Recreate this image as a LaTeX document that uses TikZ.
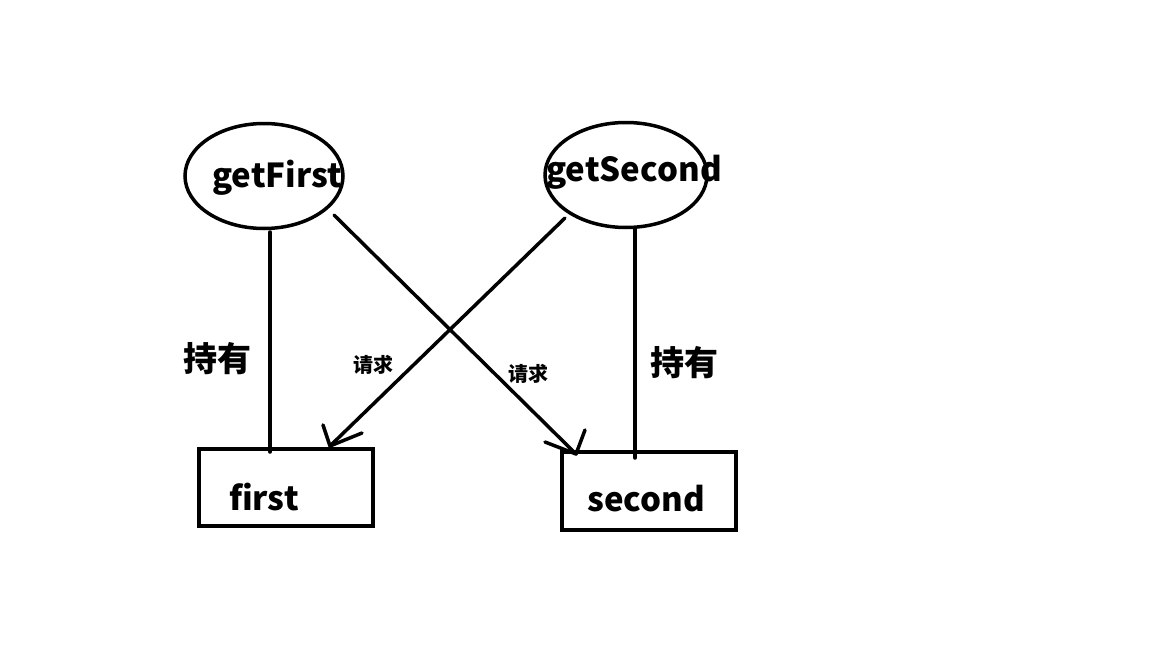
\documentclass[tikz,border=0pt]{standalone}
\usepackage{fontspec}
\setmainfont{Noto Sans CJK SC}
\usetikzlibrary{shapes.geometric}
\tikzset{
  shp/.style={draw=black,line width=3.5pt},
  ell/.style={shp,ellipse,inner sep=0pt},
  box/.style={shp,rectangle,inner sep=0pt},
  lbl/.style={font=\bfseries\fontsize{33}{37}\selectfont,inner sep=0pt},
  cn/.style={font=\bfseries\fontsize{34}{38}\selectfont,inner sep=0pt},
  cs/.style={font=\bfseries\fontsize{20}{22}\selectfont,inner sep=0pt},
  con/.style={line width=3.5pt,line cap=round,line join=round}
}
\begin{document}
\begin{tikzpicture}[x=1pt,y=-1pt]
\useasboundingbox[fill=white] (0,0) rectangle (1152,648);
\node[ell,minimum width=158pt,minimum height=105pt] (e1) at (264,176) {};
\node[ell,minimum width=162pt,minimum height=105pt] (e2) at (626,175) {};
\node[box,minimum width=174pt,minimum height=77pt] (b1) at (286,487.5) {};
\node[box,minimum width=174pt,minimum height=78pt] (b2) at (649,491) {};
\node[lbl] (t1) at (277,178) {getFirst};
\node[lbl] (t2) at (634,172) {getSecond};
\node[lbl] (t3) at (264,497) {first};
\node[lbl] (t4) at (646,499) {second};
\coordinate (a1) at (270,232);
\coordinate (a2) at (270,452);
\coordinate (c1) at (635,228);
\coordinate (c2) at (635,458);
\coordinate (d1) at (334,215);
\coordinate (d2) at (576,454);
\coordinate (dl) at (545,442);
\coordinate (dr) at (585,430);
\coordinate (f1) at (565,218);
\coordinate (f2) at (330,446);
\coordinate (fl) at (323,425);
\coordinate (fr) at (362,433);
\draw[con] (a1) -- (a2);
\draw[con] (c1) -- (c2);
\draw[con] (d1) -- (d2);
\draw[con] (dl) -- (d2) -- (dr);
\draw[con] (f1) -- (f2);
\draw[con] (fl) -- (f2) -- (fr);
\node[cn] (h1) at (217,359) {持有};
\node[cn] (h2) at (684,363) {持有};
\node[cs] (q1) at (373,365) {请求};
\node[cs] (q2) at (528,374) {请求};
\end{tikzpicture}
\end{document}
